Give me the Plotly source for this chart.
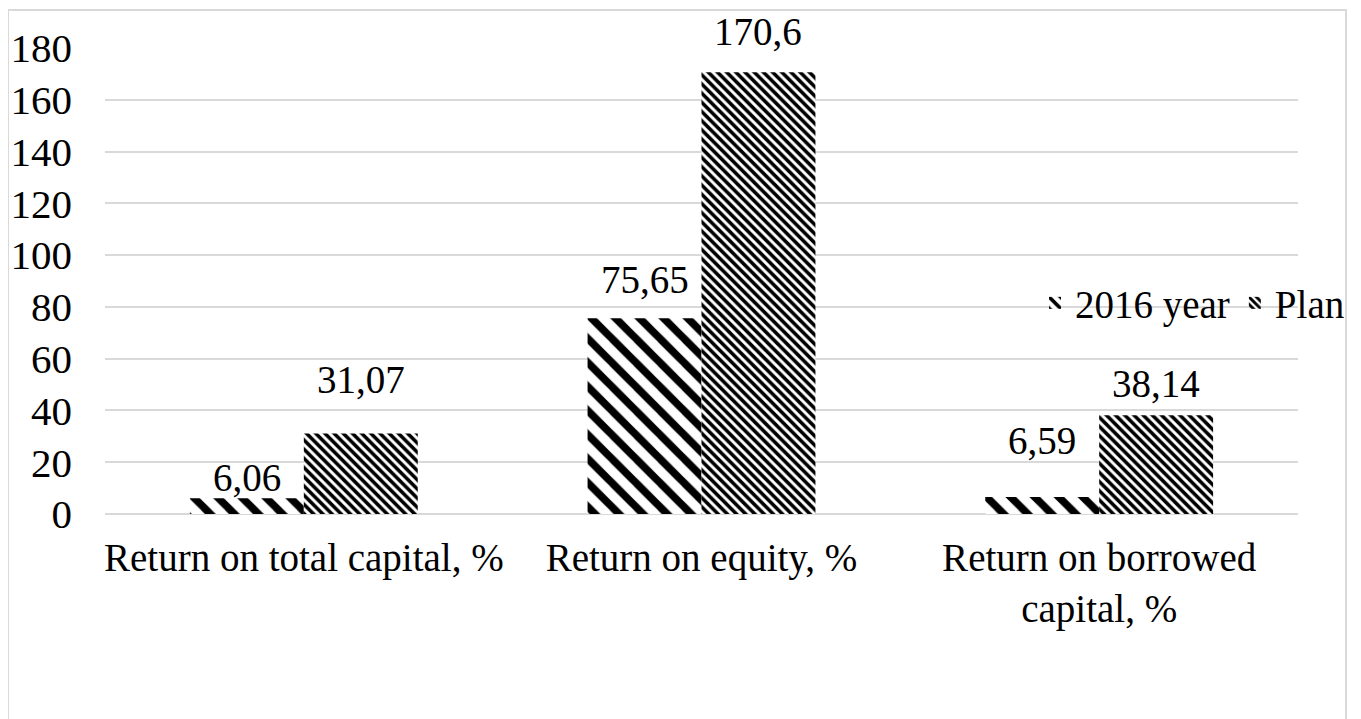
import plotly.graph_objects as go

categories = ["Return on total capital, %", "Return on equity, %", "Return on borrowed<br>capital, %"]
series_names = ["2016 year", "Plan"]
values_2016 = [6.06, 75.65, 6.59]
values_plan = [31.07, 170.6, 38.14]
y_ticks = [0, 20, 40, 60, 80, 100, 120, 140, 160, 180]

# style: vertical lift (px) of each data label above its bar top
label_lift_2016 = [21, 39, 56]
label_lift_plan = [54, 41, 32]


def fmt(v):
    return str(v).replace(".", ",")


FONT = "Liberation Serif, Times New Roman, serif"
FS = 39
GRID = "#d9d9d9"
BARGAP = 0.427

fig = go.Figure()
fig.add_trace(go.Bar(
    name=series_names[0], x=categories, y=values_2016,
    marker=dict(color="white", line=dict(width=0),
                pattern=dict(shape="\\", fillmode="replace", fgcolor="black", bgcolor="white",
                             fgopacity=1, size=17, solidity=0.45)),
))
fig.add_trace(go.Bar(
    name=series_names[1], x=categories, y=values_plan,
    marker=dict(color="white", line=dict(width=0),
                pattern=dict(shape="\\", fillmode="replace", fgcolor="black", bgcolor="white",
                             fgopacity=1, size=6.5, solidity=0.55)),
))

# page body has an 8px margin: figure coordinates = screen coordinates - 8
OFF = 8
W, H = 1361, 719
L = 105 - OFF
T = 48 - OFF
R = W - (1298 - OFF)
B = H - (514 - OFF)
pw, ph = W - L - R, H - T - B


def px_x(x):
    return (x - OFF - L) / pw


def px_y(y):
    return (H - B - (y - OFF)) / ph


# half of one bar's width in px, from the category band and bargap
bar_w = pw / len(categories) * (1 - BARGAP) / 2
annotations = []
for series_vals, lifts, sign in ((values_2016, label_lift_2016, -1), (values_plan, label_lift_plan, 1)):
    for cat, v, lift in zip(categories, series_vals, lifts):
        annotations.append(dict(
            x=cat, y=v, xref="x", yref="y", text=fmt(v), showarrow=False,
            xanchor="center", yanchor="middle", xshift=sign * bar_w / 2, yshift=lift,
            font=dict(family=FONT, size=FS, color="black"),
        ))

fig.update_layout(
    width=W, height=H,
    margin=dict(l=L, r=R, t=T, b=B, pad=0, autoexpand=False),
    paper_bgcolor="white", plot_bgcolor="white",
    barmode="group", bargap=BARGAP, bargroupgap=0,
    font=dict(family=FONT, size=FS, color="black"),
    showlegend=True,
    legend=dict(orientation="h", x=px_x(1350), xanchor="right",
                y=px_y(303), yanchor="middle",
                bgcolor="rgba(0,0,0,0)", font=dict(family=FONT, size=FS, color="black"),
                itemwidth=30, tracegroupgap=0),
    xaxis=dict(showgrid=False, showline=False, ticks="", zeroline=False, automargin=False,
               tickfont=dict(family=FONT, size=FS, color="black"), ticklabelstandoff=17),
    yaxis=dict(range=[0, 180], tickvals=y_ticks, showgrid=True, gridcolor=GRID, gridwidth=1.5,
               zeroline=True, zerolinecolor=GRID, zerolinewidth=1.5, showline=False, ticks="",
               automargin=False,
               tickfont=dict(family=FONT, size=41, color="black"), ticklabelstandoff=32),
    annotations=annotations,
    shapes=[dict(type="rect", xref="paper", yref="paper",
                 x0=px_x(8), x1=px_x(1346),
                 y0=px_y(740), y1=px_y(10),
                 line=dict(color=GRID, width=2), fillcolor="rgba(0,0,0,0)", layer="below")],
)

fig.write_html("out.html")
